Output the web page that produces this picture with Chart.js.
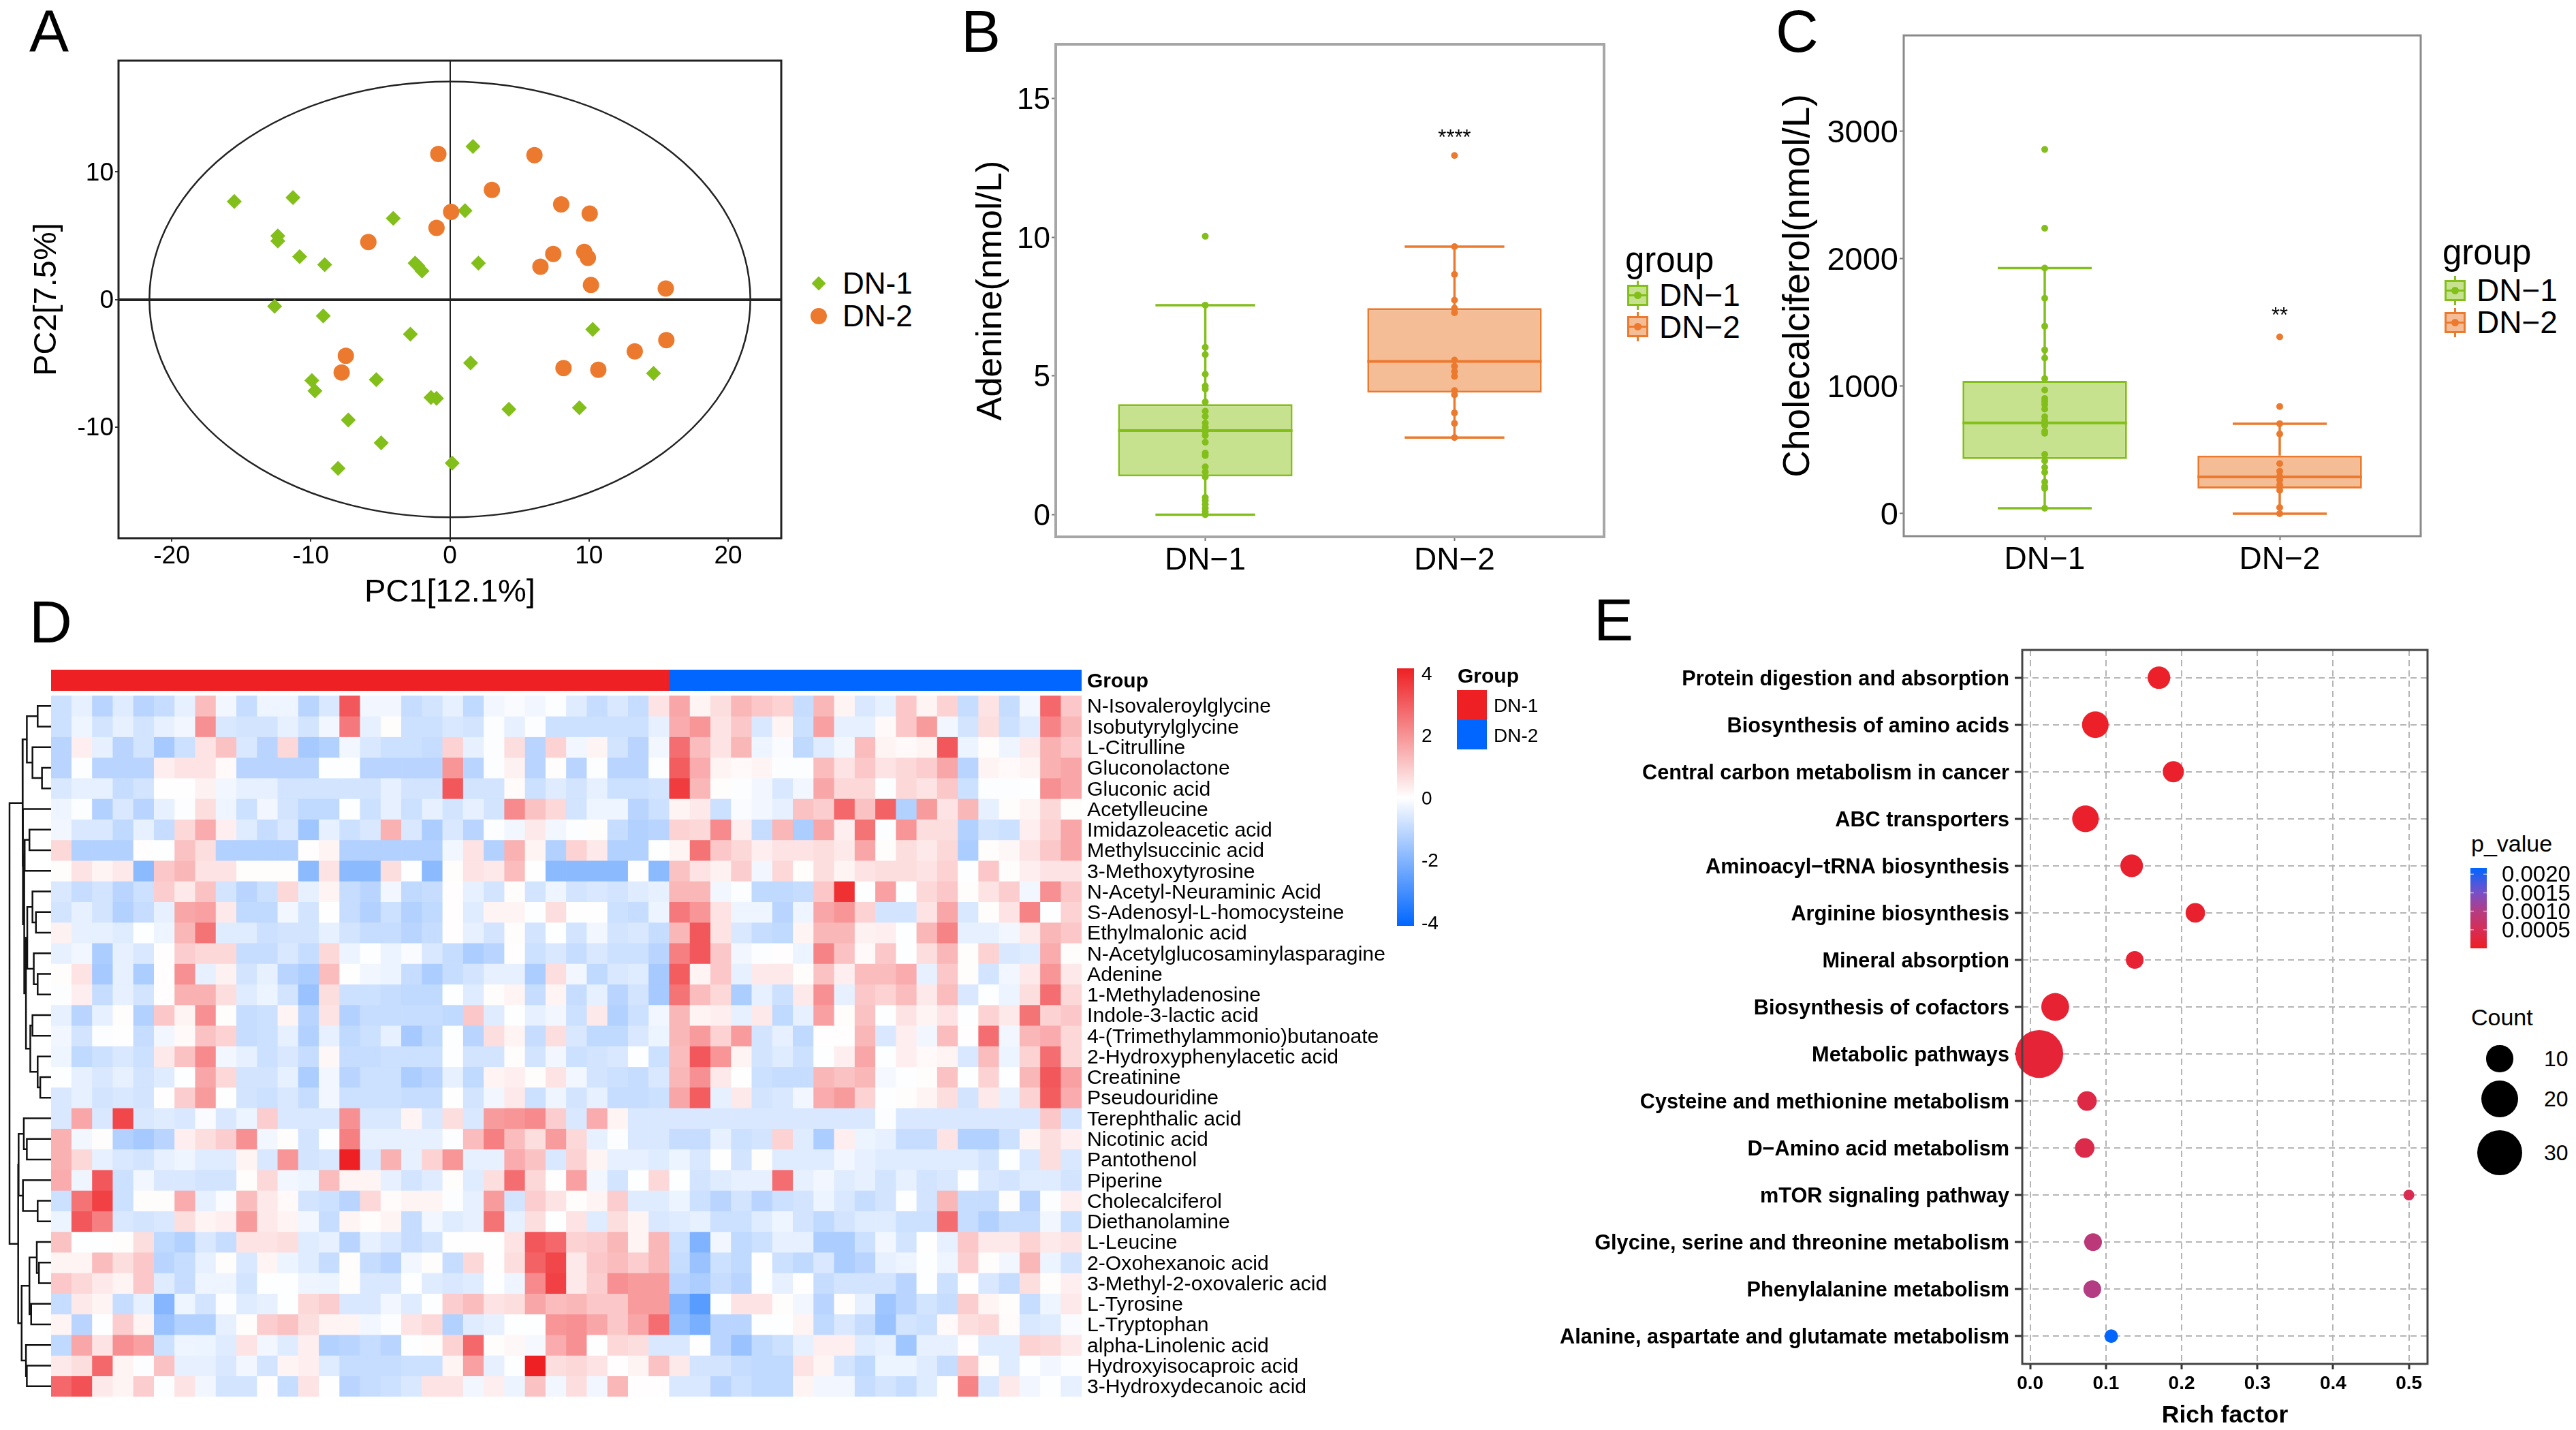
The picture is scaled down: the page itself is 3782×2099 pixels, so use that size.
<!DOCTYPE html>
<html>
<head>
<meta charset="utf-8">
<title>DN metabolomics</title>
<script src="https://cdn.jsdelivr.net/npm/chart.js@4/dist/chart.umd.min.js"></script>
<style>
  html, body { margin: 0; padding: 0; background: #fff; }
  #page { position: relative; width: 3782px; height: 2099px; overflow: hidden; font-family: "Liberation Sans", Arial, sans-serif; color: #000; }
  #page canvas { position: absolute; }
  .t { position: absolute; line-height: 1; white-space: nowrap; }
  .k { position: absolute; box-sizing: border-box; }
</style>
</head>
<body>
<div id="page"></div>
<script>
// Panel A - PCA scores
const pcaDn1X = [1.66, -15.5, -11.28, -4.07, 1.09, -12.37, -12.37, -10.8, -9.0, -2.5, -2.3, -2.0, 2.05, -12.6, -9.1, -2.84, 10.27, 1.49, 14.64, -9.92, -9.7, -5.29, -1.36, -0.96, 4.24, 9.31, -7.3, -4.94, -8.04, 0.17];
const pcaDn1Y = [12.0, 7.68, 7.99, 6.36, 6.96, 4.98, 4.58, 3.35, 2.73, 2.85, 2.63, 2.23, 2.85, -0.53, -1.29, -2.73, -2.35, -4.98, -5.8, -6.36, -7.18, -6.3, -7.7, -7.77, -8.62, -8.5, -9.47, -11.25, -13.26, -12.85];
const pcaDn2X = [-0.83, 6.08, 3.02, 8.0, 0.09, 10.05, -0.96, -5.86, 7.43, 9.66, 9.92, 6.51, 10.14, 15.52, 15.56, 13.29, -7.48, -7.78, 8.17, 10.67];
const pcaDn2Y = [11.41, 11.32, 8.59, 7.46, 6.87, 6.74, 5.61, 4.51, 3.57, 3.73, 3.26, 2.57, 1.13, 0.85, -3.2, -4.08, -4.42, -5.74, -5.39, -5.52];
const pcaXTicks = [-20, -10, 0, 10, 20];
const pcaYTicks = [-10, 0, 10];

// Panels B, C - box stats are [low whisker, q1, median, q3, high whisker]
const groupNames = ["DN\u22121", "DN\u22122"];
const adenineDn1 = [10.03, 7.55, 6.03, 5.77, 5.06, 4.64, 4.53, 4.06, 3.73, 3.54, 3.3, 3.15, 2.99, 2.85, 2.61, 2.22, 2.13, 1.72, 1.54, 1.36, 0.62, 0.51, 0.37, 0.23, 0.1, 0];
const adenineDn2 = [12.94, 9.66, 8.66, 7.73, 7.44, 7.28, 5.57, 5.35, 5.16, 4.98, 4.47, 4.32, 3.67, 3.29, 2.78];
const adenineBoxDn1 = [0, 1.38, 3.03, 3.98, 7.55];
const adenineBoxDn2 = [2.78, 4.4, 5.52, 7.44, 9.66];
const adenineTicks = [0, 5, 10, 15];
const cholecalciferolDn1 = [2859, 2240, 1928, 1691, 1471, 1285, 1222, 1060, 970, 904, 880, 856, 820, 760, 730, 694, 646, 631, 465, 414, 363, 324, 249, 213, 198, 42];
const cholecalciferolDn2 = [1387, 841, 706, 625, 393, 333, 294, 264, 225, 183, 48, 0];
const cholecalciferolBoxDn1 = [42, 429, 712, 1042, 1928];
const cholecalciferolBoxDn2 = [0, 198, 288, 456, 706];
const cholecalciferolTicks = [0, 1000, 2000, 3000];

// Panel D - heatmap, one row per metabolite, 30 DN-1 then 20 DN-2 samples
const metabolites = ["N-Isovaleroylglycine", "Isobutyrylglycine", "L-Citrulline", "Gluconolactone", "Gluconic acid", "Acetylleucine", "Imidazoleacetic acid", "Methylsuccinic acid", "3-Methoxytyrosine", "N-Acetyl-Neuraminic Acid", "S-Adenosyl-L-homocysteine", "Ethylmalonic acid", "N-Acetylglucosaminylasparagine", "Adenine", "1-Methyladenosine", "Indole-3-lactic acid", "4-(Trimethylammonio)butanoate", "2-Hydroxyphenylacetic acid", "Creatinine", "Pseudouridine", "Terephthalic acid", "Nicotinic acid", "Pantothenol", "Piperine", "Cholecalciferol", "Diethanolamine", "L-Leucine", "2-Oxohexanoic acid", "3-Methyl-2-oxovaleric acid", "L-Tyrosine", "L-Tryptophan", "alpha-Linolenic acid", "Hydroxyisocaproic acid", "3-Hydroxydecanoic acid"];
const sampleCounts = [30, 20];
const heatRows = [
  [-.8,-.4,-1.1,-.5,-1.1,-.9,-.4,1.2,-.2,-.9,-.25,-.25,-1.1,-.6,3.0,-.2,-.2,-.9,-.7,-.4,-1.0,-.2,-.1,-.2,-.05,-.5,-.9,-.6,-.9,.5, 1.6,.2,.6,1.3,1.0,.8,-.9,1.3,.2,-.6,-.4,1.0,.2,.8,-.9,.5,-.9,-.2,2.7,1.0],
  [-.8,-.25,-.7,-.4,-.7,-.4,-.2,2.0,-.6,-.7,-.7,-.4,-.7,-.2,2.4,-.4,.05,-.8,-.8,-.6,-.7,-.05,-.4,-.05,-.8,-.8,-.8,-.8,-.8,-.4, 1.5,1.9,.5,1.0,-.6,.2,-.8,1.7,-.4,-.4,.1,1.0,1.8,-.2,-.7,.6,-.8,-.5,2.2,1.3],
  [-1.1,.3,-.4,-1.1,-.7,-1.4,-.8,.5,1.1,-.6,-1.1,.7,-1.4,-1.2,-.2,-.6,-.8,-.8,-.9,.8,-.4,-.05,.6,-1.1,.8,-.2,.2,-.7,-1.1,-.2, 2.6,1.2,.5,1.3,-.25,-.1,-1.0,-.5,-.2,1.2,.2,.1,.2,3.0,-.3,.05,-.25,.4,1.4,1.0],
  [-1.1,-.05,-1.1,-1.1,-1.1,.3,.5,.5,.1,-1.1,-1.1,-1.1,-1.1,-.03,-.03,-1.1,-1.1,-1.1,-1.1,1.9,-1.1,-.05,.25,-1.1,.05,-1.1,-.05,-1.1,-1.1,-.05, 2.9,1.5,.2,.1,.2,-.05,-.05,1.2,.5,1.0,.5,.7,.9,1.6,-1.1,.2,.1,.2,1.4,1.6],
  [-.6,-.4,-.4,-.9,-.7,-.02,-.02,.25,-.2,-.4,-.4,-.7,-.7,-.7,-.7,-.7,-.4,-.7,-.7,3.0,-.7,-.7,.08,-.8,-.5,-.7,-.4,-.8,-.8,-.7, 3.5,1.3,.05,-.05,-.2,-.6,-.2,1.6,.7,.7,-.05,.7,.5,1.0,-.8,-.05,-.05,-.03,2.0,1.6],
  [-.25,-.05,-1.2,-.6,-1.1,-.4,-.05,.6,-.25,-.8,-.2,-.7,-1.0,-1.0,-.03,-.8,-.4,-.8,-.4,-.7,-.4,-.7,2.1,1.1,.7,-.7,-.25,-.25,-1.1,-.8, .2,.4,-.8,-.1,-.2,-.4,1.1,.9,2.7,1.1,2.8,-1.2,1.8,.5,1.3,-.4,.05,.2,.7,.05],
  [-.2,-.6,-.6,-1.0,-.4,-.9,.7,1.5,.3,-.5,-.9,-.6,-1.5,-.4,-.8,-.6,1.4,-.6,-1.3,-.6,-1.1,-.05,-.2,.4,-.2,-.05,.05,-.9,-1.2,-1.1, .8,.7,2.1,.3,-.9,1.3,-1.3,1.6,.3,2.5,-.05,1.9,.6,.6,-1.2,-.7,-.8,.3,.8,1.6],
  [.7,-1.2,-1.2,-1.2,.03,-.03,1.1,.6,-1.2,-1.2,-1.2,-1.2,.03,.2,-1.2,-1.2,-1.2,-1.2,-1.2,-.2,.5,-1.2,1.4,.2,-1.2,.8,.4,-1.2,-1.2,-.03, .2,2.5,1.0,.7,.3,.5,.5,.6,.4,1.6,.05,.6,.4,.7,-1.3,.05,.15,.5,1.0,1.6],
  [.05,.5,.2,.4,-1.8,1.0,1.3,.5,.5,.05,.05,.05,-1.8,.5,-1.8,-1.8,.6,-.03,-1.8,.05,.5,.4,1.2,-.02,-1.8,-1.8,-1.8,-1.8,-.02,-1.8, 1.1,.5,.25,.9,-.2,.7,.05,.6,.2,.5,.6,.6,.5,.8,-.03,1.0,.05,.3,.5,.5],
  [-.6,-.9,-.7,-1.1,-.8,.9,.4,1.1,-.7,-1.1,-.8,.7,-.4,.2,-.9,-1.1,-.2,-1.0,-.9,.03,-.4,-.7,.05,-.7,-.25,-.7,-.6,-.7,-.5,-.4, 1.3,1.3,-.2,-.05,-1.0,-1.0,-.9,1.0,3.7,-.03,1.7,-.03,.7,1.0,.05,.5,.9,-.2,2.0,1.0],
  [-.7,-.4,-.7,-1.2,-.9,-.4,1.6,1.7,.4,-1.0,-1.0,-.2,-.7,-.02,-.9,-1.2,-.8,-1.2,-1.0,.03,-.5,.2,.2,-.03,.6,-.02,-.02,-.8,-.9,-.3, 2.4,1.9,.5,-.25,-.25,-1.1,-.25,1.6,1.9,.8,-.7,-.7,.5,1.6,-.6,.05,.5,2.2,-.03,.8],
  [.25,-.4,-.4,-.5,-.03,-.25,1.3,2.5,-.5,-.5,-.8,-.7,-.7,-.4,-.7,-.9,-.9,-1.1,-.9,.03,-.4,-.7,.05,-.7,-.03,-.7,-.2,-.7,-.6,-.9, 1.3,3.0,.5,-.6,-.9,-1.0,.2,1.3,1.3,.25,.3,-.03,1.3,2.2,-.4,-.4,-.2,.4,1.3,1.0],
  [-.4,-.2,-1.3,-.4,-.6,.03,.9,.7,.7,-.9,-.9,-.6,-.9,.7,-.3,-.03,-.3,-.1,-.6,-.9,-1.3,-1.1,.03,-.8,-.6,-.9,-.6,-.8,-.8,-1.1, 2.3,3.0,1.0,-.2,-.05,.03,-.3,2.2,1.1,.1,1.0,-.03,.6,1.3,.05,.8,-.6,-.5,1.5,.05],
  [.05,.5,-1.4,-.4,-1.3,.03,2.0,-.4,.25,-.7,-.4,-1.1,-1.3,1.2,-.02,-.2,-.3,-.9,-1.3,-.9,-.7,-.4,-.4,-1.3,.6,-.2,-1.0,-.6,-.5,-1.4, 2.9,.2,1.0,-.4,.4,.4,.05,1.1,.3,1.2,1.2,1.5,-.4,1.0,.05,-.7,-.2,.4,1.9,.4],
  [-.05,.3,-.9,-.4,-.7,.03,1.4,1.4,.6,-.5,-.3,-.7,-1.6,.6,-.8,-.8,-.9,-1.0,-1.0,-.03,-.5,.05,.2,-.9,.2,-.9,-.4,-1.1,-.7,-1.4, 2.5,1.2,.7,-1.3,-.4,-.8,.4,2.0,-.4,1.0,.8,1.2,.4,1.2,-.6,-.03,-.3,.6,2.6,.7],
  [-.4,-1.1,-.4,.05,-1.2,1.0,.2,2.0,.05,-.9,-.8,.2,-1.1,.5,-1.2,-.9,-.9,-.9,-.9,-1.0,1.0,-.5,-.03,-.4,-.2,-.8,.4,-1.2,-.8,-.2, 1.3,.2,.3,-.4,.4,-1.0,-.4,1.7,.05,1.1,-.03,.5,.2,.5,-.03,.8,.4,2.5,.8,1.0],
  [-.2,-.7,-.05,-.02,-.9,-.2,.1,1.1,.8,-.9,-.8,-.4,-1.2,-.4,-1.0,-.8,-.4,-1.4,-1.0,-.03,-1.1,.6,.2,-.9,.6,-.6,-1.0,-1.0,-.6,-.3, 1.3,1.8,.8,1.8,-.7,-.4,-1.0,.03,.03,1.3,-.6,.3,-.2,1.2,.03,2.6,-.2,1.3,1.5,.7],
  [-.25,-1.0,-.8,-.6,-.8,.4,1.1,2.1,-.2,-.4,-.8,-.6,-.9,.15,-.9,-.9,-.8,-.8,-.8,-.03,-.7,-.7,.05,-.7,-.2,-.8,-.7,-.6,-.03,-.8, 1.2,3.0,1.9,.2,-.7,-.5,-.8,-.03,.3,1.6,-.03,.3,.1,.2,-.6,1.2,-.3,.8,2.6,.7],
  [-.03,-.4,-.6,-.4,-.7,-.5,-.03,1.6,.7,-.7,-.7,-.4,-1.3,-.2,-1.1,-.8,-.8,-1.3,-1.1,-.4,-1.0,.2,.3,.05,.5,-.2,-.7,-.8,-.9,-.6, 1.3,2.0,.4,-.02,-.8,-.9,-.9,1.3,1.1,1.3,-.15,-.03,.05,1.1,-.03,.8,-.03,1.3,3.0,1.7],
  [-.6,-.4,-.7,-.6,-.7,.03,.9,1.8,-.02,-.7,-.8,-.6,-.9,-.2,-.8,-.8,-.8,-.9,-.9,-.02,-.7,-.2,.4,-.8,-.25,-.7,-.4,-.9,-.9,-.8, 1.6,2.9,-.4,.4,-.7,-.6,-.2,1.5,1.8,.8,-.03,.05,.2,.6,-.7,.4,-.4,.8,2.9,1.5],
  [-.6,1.6,-.6,3.3,-.6,-.5,-.6,-.1,-.6,-.3,.9,-.6,-.6,-.6,2.0,-.6,-.6,.2,-.6,.6,-.6,1.8,1.9,2.1,.9,-.6,1.5,.2,-.6,-.6, -.6,-.6,-.6,-.6,-.6,-.6,-.6,-.6,-.6,-.6,-.05,-.6,-.6,-.6,-.6,-.6,-.6,-.6,1.0,-.7],
  [1.4,-.2,.05,-1.2,-1.4,-1.1,.3,.6,.9,2.0,-.2,.05,-.7,-.05,2.3,-.4,-.4,-.4,-.4,-.05,1.2,2.3,1.2,.6,1.8,.7,-.4,-.05,-.6,-.6, -.9,-.9,-.4,-.8,-.7,.8,-.5,-1.3,.3,-.3,-.4,-.9,-.9,.5,-1.2,-1.2,-.8,.2,.6,.3],
  [1.4,.7,-.4,-.6,-.7,-.4,-.25,-.5,-.5,.2,-.6,1.9,-.7,-.6,4.0,-.6,1.4,-.4,.8,1.9,-.4,-.4,1.5,1.1,-.6,.8,.2,-.4,-.4,-.5, -.3,-.6,-.02,-.7,.05,-.5,-.5,-.5,-.2,-.4,-.5,-.5,-.5,-.5,-.5,-.7,-.03,-.6,.6,-.6],
  [1.5,-.25,3.0,-.8,-.2,-.6,-.6,-.7,-.7,.05,.7,-.2,-.3,1.2,.2,.2,-.4,-.7,-.5,.05,-.5,.6,2.6,.7,.02,1.7,-.2,-.7,-.03,.7, -.03,-.7,-.5,-.4,-.4,2.6,-.4,-.2,-.5,-.4,-.7,-.4,-.7,-.6,-.03,-.6,-.7,-.5,-.5,-.7],
  [-.8,2.5,3.4,-.8,.05,.05,1.5,-.4,-.1,1.2,.4,.1,-.7,-.8,-1.1,.7,.08,.2,.2,-.05,-.4,1.8,-.7,.9,.5,.05,.2,.9,-.5,-.5, -.3,-.8,-1.1,-.7,-1.1,-.8,-.7,-.3,-.6,-.9,-.7,-.03,-.7,1.3,-.9,-.9,.05,-1.1,-.05,.3],
  [-.3,3.0,2.3,-.6,-.7,-.6,.6,.2,.3,1.8,.4,.2,-.2,-.9,.2,.05,.2,-.9,-.2,-.5,-.4,2.5,-.4,.6,-.03,.5,-.5,.6,.2,-.6, -.5,-.4,-.8,-.8,-.5,-.25,-.7,-1.0,-.7,-.5,-.5,-.8,-.8,2.6,-.9,-1.2,-.9,-.9,-.2,-.8],
  [1.1,-.03,-.03,.05,.6,-1.0,-1.2,-.6,-.9,.5,.5,.6,-.5,-.4,-1.1,-.4,-.6,-.9,-.7,.02,.02,.02,.5,3.0,2.7,.8,.9,1.3,.2,1.3, -.8,-2.0,-.2,-1.0,-.8,-.4,-.4,-1.3,-1.3,-.8,-.2,-.7,-.02,-.4,1.0,.4,.4,.8,.4,.5],
  [.2,.2,1.2,.6,1.0,-1.1,-.9,-.4,.05,-.6,.2,-.3,-.5,-.9,.05,-.9,-1.1,-.2,.05,-.9,.7,.03,.6,2.8,3.3,.4,1.0,1.2,.9,1.3, -.9,-1.6,-.8,-1.0,-.02,-.8,-1.0,-.6,-1.3,-1.1,-.4,-.25,-.03,-.25,.9,.05,-.2,1.3,-.3,-.7],
  [1.0,.7,.4,.2,1.0,-.5,-.9,-.25,-.25,-.7,-.03,-.03,-.25,-.3,.05,-.6,-.6,-.03,-.5,-.6,-.5,-.03,-.25,2.1,3.4,.4,.9,2.0,1.8,1.8, -1.1,-1.3,-.9,-1.1,-.03,-.4,-.02,-.9,-.7,-.7,-.7,-1.1,-.03,-.8,-.02,-.6,-.9,.6,.05,.3],
  [-.9,.4,.2,-.9,-.4,-1.9,-.25,-.7,-.05,-.5,-.4,-.03,.7,.9,-.6,-.6,-.2,-.5,-.03,.9,1.2,.5,.6,1.6,1.2,1.3,1.0,1.0,1.8,1.8, -1.9,-2.6,-.03,.5,.5,.05,-.2,-1.1,.05,-.4,-1.5,-1.1,-.7,-.9,.9,.2,.05,-.9,-.25,.4],
  [.2,-1.1,-.03,.9,.2,-1.6,-1.2,-1.2,-.4,.05,.9,1.1,.6,.2,.2,-.2,-.05,.5,.7,-1.2,-.5,-.4,-.03,-.03,1.9,2.0,1.6,1.0,1.6,2.6, -1.7,-2.1,-1.1,-1.1,-.03,-.03,.2,-1.0,-.6,-.9,-1.6,-.7,-.8,.1,.6,.7,.08,-.6,-.5,-.1],
  [-1.0,1.6,.5,2.0,1.7,-.8,-.25,-.3,-.5,.5,-.2,-.5,.3,-1.2,-1.1,-.9,-1.1,-.03,.05,.8,2.7,.05,.15,-.15,1.5,2.0,.02,.7,.6,-.6, -.6,-.02,-1.1,-1.6,-1.0,-.8,-.4,.3,.3,-.5,-.4,-1.5,-.4,-.4,.03,-.5,-.5,.8,.7,.4],
  [.4,.6,2.7,.2,-.04,1.1,-.4,-.4,-.6,-.2,-.7,.2,.3,-.5,-.9,-.9,-.9,-.8,-.8,.2,1.7,-.4,-.03,4.0,.6,.7,.5,.03,.2,1.1, .4,-.7,-.7,-.9,-1.0,-1.0,.5,.2,-.7,-1.0,-.3,-.3,-.5,-.9,1.0,.05,-.5,-.03,-.2,-.05],
  [2.7,3.1,.4,.2,.9,-.05,.5,-.2,-.7,-.7,.03,-.9,.5,-.02,-1.1,-.9,-.8,-.6,.5,.5,-.2,.3,-.3,1.1,-.2,.6,-.2,1.3,.03,.03, -.6,-.6,-1.1,-.8,-1.0,-1.0,.2,-.2,-.2,-.9,-.7,-.9,-.5,-.02,2.2,-.6,.4,-.2,-.03,-.4]
];
const heatScaleTicks = [-4, -2, 0, 2, 4];
// row dendrogram: [merge height, child, child], a plain number is a row index
const dendroTree = [96,
  [66,
    [56, [31, 0, 1], [43, 2, [21, 3, 4]]],
    [65, 5,
      [62,
        [61, [50, 6, 7], 8],
        [58,
          [55, [43, 9, [35, 10, 11]], [40, 12, [31, 13, 14]]],
          [48, [43, 15, 16], [31, 17, [25, 18, 19]]]]]]],
  [76,
    [75, [63, 20, [56, 21, 22]], [65, 23, [31, 24, 25]]],
    [68,
      [50, [33, 26, [28, 27, 28]], [46, 29, 30]],
      [58, 31, [56, 32, 33]]]]
];

// Panel E - KEGG enrichment
const pathways = ["Protein digestion and absorption", "Biosynthesis of amino acids", "Central carbon metabolism in cancer", "ABC transporters", "Aminoacyl\u2212tRNA biosynthesis", "Arginine biosynthesis", "Mineral absorption", "Biosynthesis of cofactors", "Metabolic pathways", "Cysteine and methionine metabolism", "D\u2212Amino acid metabolism", "mTOR signaling pathway", "Glycine, serine and threonine metabolism", "Phenylalanine metabolism", "Alanine, aspartate and glutamate metabolism"];
const richFactor = [.170, .086, .189, .073, .134, .218, .138, .033, .012, .075, .072, .5, .083, .082, .107];
const pathwayCount = [7, 10, 6, 10, 7, 5, 4, 11, 34, 5, 5, 1, 4, 4, 2];
const pathwayP = [.00005, .00005, .00008, .00008, .0001, .0001, .00015, .00015, .0002, .00035, .0004, .00045, .0009, .001, .00217];
const richTicks = [0, .1, .2, .3, .4, .5];
const pScaleTicks = [.0005, .001, .0015, .002];
const countLegend = [10, 20, 30];

const GREEN = "#83bf1a", GREEN_FILL = "#c7e28f", ORANGE = "#ec7a2e", ORANGE_FILL = "#f4bd96";
const HEAT_RED = [238, 32, 36], HEAT_BLUE = [0, 102, 255];
const pStops = [[0, [238, 30, 36]], [.0005, [215, 45, 85]], [.001, [180, 60, 130]], [.0015, [120, 80, 200]], [.00217, [0, 102, 255]]];

const page = document.getElementById("page");
Chart.defaults.font.family = '"Liberation Sans", Arial, sans-serif';
Chart.defaults.color = "#000";
Chart.defaults.animation = false;
Chart.defaults.events = [];
Chart.defaults.plugins.legend.display = false;
Chart.defaults.plugins.tooltip.enabled = false;

const rgb = c => `rgb(${c[0]},${c[1]},${c[2]})`;
const mix = (a, b, t) => a.map((v, i) => Math.round(v + (b[i] - v) * t));
const heatColor = z => rgb(z >= 0 ? mix([255, 255, 255], HEAT_RED, Math.min(z / 4, 1)) : mix([255, 255, 255], HEAT_BLUE, Math.min(-z / 4, 1)));
function pColor(p) {
  for (let i = 1; i < pStops.length; i++) {
    if (p <= pStops[i][0]) {
      return rgb(mix(pStops[i - 1][1], pStops[i][1], (p - pStops[i - 1][0]) / (pStops[i][0] - pStops[i - 1][0])));
    }
  }
  return rgb(pStops[pStops.length - 1][1]);
}
// size scale of the count legend, as a diameter
const countDiameter = n => Math.sqrt(110 + 141.7 * n);

function text(str, x, y, size, opts = {}) {
  const el = document.createElement("div");
  el.className = "t";
  el.textContent = str;
  el.style.left = x + "px";
  el.style.top = y + "px";
  el.style.fontSize = size + "px";
  if (opts.bold) el.style.fontWeight = "bold";
  el.style.transform = opts.center ? "translate(-50%,-50%)" : "translateY(-50%)";
  page.appendChild(el);
}

function block(x, y, w, h, css) {
  const el = document.createElement("div");
  el.className = "k";
  el.style.cssText = `left:${x}px;top:${y}px;width:${w}px;height:${h}px;${css}`;
  page.appendChild(el);
  return el;
}

// plot = inner plot rectangle in page pixels, margin = room kept for axes round it.
// A margin taken by an axis gets no layout padding: margin.axisR, margin.axisB
function mount(plot, margin, config) {
  const c = document.createElement("canvas");
  const w = plot.r - plot.l + margin.l + margin.r, h = plot.b - plot.t + margin.t + margin.b;
  c.width = w;
  c.height = h;
  c.style.left = plot.l - margin.l + "px";
  c.style.top = plot.t - margin.t + "px";
  c.style.width = w + "px";
  c.style.height = h + "px";
  page.appendChild(c);
  config.options.responsive = false;
  config.options.layout = {
    autoPadding: false,
    padding: { top: margin.t, right: margin.axisR ? 0 : margin.r, left: 0, bottom: margin.axisB ? 0 : margin.b }
  };
  return new Chart(c, config);
}

const fixedTicks = values => scale => { scale.ticks = values.map(value => ({ value })); };

Chart.register({
  id: "frame",
  afterDatasetsDraw(chart, args, o) {
    if (!o.color) return;
    const a = chart.chartArea, g = chart.ctx;
    g.save();
    g.strokeStyle = o.color;
    g.lineWidth = o.width;
    g.strokeRect(a.left, a.top, a.right - a.left, a.bottom - a.top);
    g.restore();
  }
}, {
  id: "ellipse",
  beforeDatasetsDraw(chart, args, o) {
    if (!o.rx) return;
    const { x, y } = chart.scales, g = chart.ctx;
    g.save();
    g.strokeStyle = o.color;
    g.lineWidth = o.width;
    g.beginPath();
    g.ellipse(x.getPixelForValue(0), y.getPixelForValue(0), x.getPixelForValue(o.rx) - x.getPixelForValue(0), y.getPixelForValue(0) - y.getPixelForValue(o.ry), 0, 0, Math.PI * 2);
    g.stroke();
    g.restore();
  }
}, {
  id: "note",
  afterDatasetsDraw(chart, args, o) {
    if (!o.text) return;
    const g = chart.ctx;
    g.save();
    g.font = `${o.size}px "Liberation Sans", Arial, sans-serif`;
    g.fillStyle = "#000";
    g.textAlign = "center";
    g.textBaseline = "middle";
    g.fillText(o.text, chart.scales.x.getPixelForValue(o.x), chart.scales.y.getPixelForValue(o.y));
    g.restore();
  }
}, {
  id: "innerTicks",
  afterDatasetsDraw(chart, args, o) {
    if (!o.color) return;
    const a = chart.chartArea, g = chart.ctx, y = chart.scales.y;
    g.save();
    g.strokeStyle = o.color;
    g.lineWidth = 1.5;
    y.ticks.forEach(t => {
      const p = y.getPixelForValue(t.value), len = (a.right - a.left) / 5;
      g.beginPath();
      g.moveTo(a.left, p); g.lineTo(a.left + len, p);
      g.moveTo(a.right - len, p); g.lineTo(a.right, p);
      g.stroke();
    });
    g.restore();
  }
});

/* ---------- A ---------- */
const zip = (xs, ys) => xs.map((x, i) => ({ x, y: ys[i] }));
const zeroLine = (color, width) => ({
  color: c => (c.tick.value === 0 ? color : "rgba(0,0,0,0)"),
  lineWidth: width,
  tickColor: "#333",
  tickWidth: 2,
  tickLength: 5,
  drawOnChartArea: true
});
mount({ l: 174, t: 89, r: 1147, b: 790 }, { l: 133, r: 10, t: 30, b: 108, axisB: true }, {
  type: "scatter",
  data: {
    datasets: [
      { label: "DN-2", data: zip(pcaDn2X, pcaDn2Y), backgroundColor: ORANGE, pointStyle: "circle", pointRadius: 12, borderWidth: 0 },
      { label: "DN-1", data: zip(pcaDn1X, pcaDn1Y), backgroundColor: GREEN, pointStyle: "rectRot", pointRadius: 11, borderWidth: 0 }
    ]
  },
  options: {
    scales: {
      x: {
        type: "linear", min: -23.82, max: 23.82, afterBuildTicks: fixedTicks(pcaXTicks), afterFit: s => { s.height = 108; },
        grid: zeroLine("#222", 2), border: { display: false },
        ticks: { font: { size: 37 }, padding: 0, maxRotation: 0, autoSkip: false, callback: v => v },
        title: { display: true, text: "PC1[12.1%]", font: { size: 47 }, padding: 0 }
      },
      y: {
        type: "linear", min: -18.74, max: 18.74, afterBuildTicks: fixedTicks(pcaYTicks), afterFit: s => { s.width = 133; },
        grid: zeroLine("#222", 4), border: { display: false },
        ticks: { font: { size: 37 }, padding: 2, labelOffset: 2, autoSkip: false, callback: v => v },
        title: { display: true, text: "PC2[7.5%]", font: { size: 47 }, padding: 0 }
      }
    },
    plugins: { frame: { color: "#222", width: 3 }, ellipse: { rx: 21.6, ry: 17.1, color: "#222", width: 2.5 } }
  }
});
block(1193, 407, 18, 18, `background:${GREEN};transform:rotate(45deg) scale(.82);`);
block(1190, 452, 24, 24, `background:${ORANGE};border-radius:50%;`);
text("DN-1", 1237, 416, 44);
text("DN-2", 1237, 464, 44);

/* ---------- B, C ---------- */
function boxDatasets(points, stats, color, fill, pos) {
  const [lo, q1, med, q3, hi] = stats;
  const gap = { x: null, y: null };
  return {
    points: { type: "scatter", data: points.map(y => ({ x: pos, y })), backgroundColor: color, pointRadius: 5, borderWidth: 0 },
    lines: {
      type: "scatter", showLine: true, pointRadius: 0, borderColor: color, borderWidth: 3.5,
      data: [
        { x: pos - .2, y: lo }, { x: pos + .2, y: lo }, gap,
        { x: pos - .2, y: hi }, { x: pos + .2, y: hi }, gap,
        { x: pos, y: lo }, { x: pos, y: q1 }, gap,
        { x: pos, y: q3 }, { x: pos, y: hi }
      ]
    },
    median: { type: "scatter", showLine: true, pointRadius: 0, borderColor: color, borderWidth: 4, data: [{ x: pos - .35, y: med }, { x: pos + .35, y: med }] },
    bar: { q1, q3, pos, color, fill }
  };
}

function boxChart(plot, margin, title, titleSize, tickSize, yTicks, yMin, yMax, dn1, dn2, note, frame) {
  const a = boxDatasets(dn1.points, dn1.box, GREEN, GREEN_FILL, 1);
  const b = boxDatasets(dn2.points, dn2.box, ORANGE, ORANGE_FILL, 2);
  mount(plot, margin, {
    type: "bar",
    data: {
      datasets: [
        a.points, b.points, a.median, b.median, a.lines, b.lines,
        {
          type: "bar",
          data: [a.bar, b.bar].map(s => ({ x: s.pos, y: [s.q1, s.q3] })),
          backgroundColor: [a.bar.fill, b.bar.fill],
          borderColor: [a.bar.color, b.bar.color],
          borderWidth: 3, borderSkipped: false, categoryPercentage: 1, barPercentage: .7
        }
      ]
    },
    options: {
      scales: {
        x: {
          type: "linear", offset: false, min: .4, max: 2.6, afterBuildTicks: fixedTicks([1, 2]), afterFit: s => { s.height = margin.b; },
          grid: { drawOnChartArea: false, tickColor: "#777", tickWidth: 2, tickLength: 6, offset: false }, border: { display: false },
          ticks: { font: { size: 46 }, padding: 2, maxRotation: 0, autoSkip: false, callback: v => groupNames[v - 1] }
        },
        y: {
          type: "linear", min: yMin, max: yMax, beginAtZero: false, afterBuildTicks: fixedTicks(yTicks), afterFit: s => { s.width = margin.l; },
          grid: { drawOnChartArea: false, tickColor: "#777", tickWidth: 2, tickLength: 6 }, border: { display: false },
          ticks: { font: { size: tickSize }, padding: 2, labelOffset: 3.5, autoSkip: false, callback: v => v },
          title: { display: true, text: title, font: { size: titleSize }, padding: 0 }
        }
      },
      plugins: { frame, note }
    }
  });
}

boxChart({ l: 1550, t: 65, r: 2355, b: 788 }, { l: 126, r: 8, t: 32, b: 70, axisB: true }, "Adenine(nmol/L)", 52, 44, adenineTicks, -.8, 16.95,
  { points: adenineDn1, box: adenineBoxDn1 }, { points: adenineDn2, box: adenineBoxDn2 }, { text: "****", x: 2, y: 13.55, size: 31 }, { color: "#a6a6a6", width: 4 });
boxChart({ l: 2795, t: 52, r: 3554, b: 787 }, { l: 187, r: 8, t: 32, b: 70, axisB: true }, "Cholecalciferol(nmol/L)", 55, 47, cholecalciferolTicks, -177, 3754,
  { points: cholecalciferolDn1, box: cholecalciferolBoxDn1 }, { points: cholecalciferolDn2, box: cholecalciferolBoxDn2 }, { text: "**", x: 2, y: 1546, size: 31 }, { color: "#8a8a8a", width: 3 });

function boxKey(x, y, color, fill) {
  block(x + 14, y - 6, 3, 43, `background:${color};`);
  block(x, y, 31, 31, `background:${fill};border:3px solid ${color};`);
  block(x, y + 14, 31, 3, `background:${color};`);
  block(x + 10, y + 10, 11, 11, `background:${color};border-radius:50%;`);
}
text("group", 2386, 381, 51);
boxKey(2389, 418, GREEN, GREEN_FILL);
boxKey(2389, 464, ORANGE, ORANGE_FILL);
text(groupNames[0], 2436, 433, 46);
text(groupNames[1], 2436, 480, 46);
text("group", 3586, 370, 51);
boxKey(3589, 411, GREEN, GREEN_FILL);
boxKey(3589, 458, ORANGE, ORANGE_FILL);
text(groupNames[0], 3636, 426, 46);
text(groupNames[1], 3636, 473, 46);

/* ---------- D ---------- */
const columns = heatRows[0].map((v, i) => i + 1);
const HEAT = { l: 75, t: 1021, r: 1588, b: 2050 };
mount(HEAT, { l: 0, r: 460, t: 24, b: 24, axisR: true }, {
  type: "bar",
  data: {
    labels: columns,
    datasets: heatRows.map((row, i) => ({
      label: metabolites[i],
      data: row.map(() => 1),
      backgroundColor: row.map(heatColor),
      borderWidth: 0, categoryPercentage: 1, barPercentage: 1
    }))
  },
  options: {
    scales: {
      x: { stacked: true, display: false },
      y: { stacked: true, display: false, reverse: true, min: 0, max: metabolites.length },
      rows: {
        type: "category", position: "right", labels: metabolites, offset: true,
        afterFit: s => { s.width = 460; },
        grid: { display: false }, border: { display: false },
        ticks: { font: { size: 30.2 }, padding: 0, labelOffset: 2, autoSkip: false }
      }
    }
  }
});

// annotation bar above the heatmap
mount({ l: 75, t: 983, r: 1588, b: 1014 }, { l: 0, r: 0, t: 0, b: 0 }, {
  type: "bar",
  data: {
    labels: ["Group"],
    datasets: [
      { data: [sampleCounts[0]], backgroundColor: rgb(HEAT_RED), categoryPercentage: 1, barPercentage: 1 },
      { data: [sampleCounts[1]], backgroundColor: rgb(HEAT_BLUE), categoryPercentage: 1, barPercentage: 1 }
    ]
  },
  options: {
    indexAxis: "y",
    scales: {
      x: { stacked: true, display: false, min: 0, max: sampleCounts[0] + sampleCounts[1] },
      y: { stacked: true, display: false }
    }
  }
});
text("Group", 1596, 999, 30, { bold: true });

// dendrogram segments come from the merge tree
const dendroSegments = [];
function walk(node) {
  if (typeof node === "number") return { h: 0, y: node + .5 };
  const a = walk(node[1]), b = walk(node[2]), h = node[0];
  dendroSegments.push({ x: a.h, y: a.y }, { x: h, y: a.y }, { x: h, y: b.y }, { x: b.h, y: b.y }, { x: null, y: null });
  return { h, y: (a.y + b.y) / 2 };
}
walk(dendroTree);
mount({ l: 0, t: 1021, r: 75, b: 2050 }, { l: 0, r: 0, t: 0, b: 0 }, {
  type: "scatter",
  data: { datasets: [{ data: dendroSegments, showLine: true, pointRadius: 0, borderColor: "#111", borderWidth: 2.5, clip: false }] },
  options: {
    scales: {
      x: { type: "linear", display: false, reverse: true, min: 0, max: 118 },
      y: { type: "linear", display: false, reverse: true, min: 0, max: metabolites.length }
    }
  }
});

// tick padding also counts against the label overhang, so the margins are generous
function colorBar(plot, rightRoom, min, max, ticks, stops, fontSize, pad, fmt, plugins) {
  mount(plot, { l: 0, r: rightRoom, t: 40, b: 40, axisR: true }, {
    type: "bar",
    data: {
      labels: [""],
      datasets: [{
        data: [[min, max]],
        borderWidth: 0, categoryPercentage: 1, barPercentage: 1,
        backgroundColor: c => {
          const y = c.chart.scales.y;
          if (!c.chart.chartArea || !y) return "#ccc";
          const top = y.getPixelForValue(max), bottom = y.getPixelForValue(min);
          const g = c.chart.ctx.createLinearGradient(0, bottom, 0, top);
          stops.forEach(s => g.addColorStop((s[0] - min) / (max - min), rgb(s[1])));
          return g;
        }
      }]
    },
    options: {
      scales: {
        x: { display: false },
        y: {
          position: "right", min, max, beginAtZero: false, afterBuildTicks: fixedTicks(ticks), afterFit: s => { s.width = rightRoom; },
          grid: { display: false }, border: { display: false },
          ticks: { font: { size: fontSize }, padding: pad, labelOffset: 2, autoSkip: false, callback: fmt }
        }
      },
      plugins
    }
  });
}
colorBar({ l: 2051, t: 981, r: 2076, b: 1359 }, 70, -4.11, 4.15, heatScaleTicks,
  [[-4.11, HEAT_BLUE], [0, [255, 255, 255]], [4.15, HEAT_RED]], 28, 3, v => v, {});
block(2139, 1013, 44, 44, `background:${rgb(HEAT_RED)};`);
block(2139, 1057, 44, 43, `background:${rgb(HEAT_BLUE)};`);
text("Group", 2140, 992, 30, { bold: true });
text("DN-1", 2193, 1036, 28);
text("DN-2", 2193, 1080, 28);

/* ---------- E ---------- */
mount({ l: 2969, t: 954, r: 3564, b: 2002 }, { l: 720, r: 12, t: 30, b: 98, axisB: true }, {
  type: "bubble",
  data: {
    datasets: [{
      data: richFactor.map((x, i) => ({ x, y: i + 1, r: countDiameter(pathwayCount[i]) / 2 })),
      backgroundColor: pathwayP.map(pColor),
      borderWidth: 0,
      clip: false
    }]
  },
  options: {
    scales: {
      x: {
        type: "linear", min: -.0105, max: .5246, afterBuildTicks: fixedTicks(richTicks), afterFit: s => { s.height = 98; },
        grid: { color: "#b5b5b5", lineWidth: 2, tickColor: "#333", tickWidth: 3, tickLength: 8, tickBorderDash: [] }, border: { display: false, dash: [9, 6] },
        ticks: { font: { size: 28, weight: "bold" }, padding: 4, maxRotation: 0, autoSkip: false, callback: v => v.toFixed(1) },
        title: { display: true, text: "Rich factor", font: { size: 35.5, weight: "bold" }, padding: 0 }
      },
      y: {
        type: "linear", reverse: true, min: .41, max: 15.59, afterBuildTicks: fixedTicks(pathways.map((p, i) => i + 1)), afterFit: s => { s.width = 720; },
        grid: { color: "#b5b5b5", lineWidth: 2, tickColor: "#333", tickWidth: 3, tickLength: 11, tickBorderDash: [] }, border: { display: false, dash: [9, 6] },
        ticks: { font: { size: 30.7, weight: "bold" }, padding: 8, labelOffset: 2.5, autoSkip: false, callback: v => pathways[v - 1] }
      }
    },
    plugins: { frame: { color: "#444", width: 3 } }
  }
});
text("p_value", 3628, 1238, 34);
colorBar({ l: 3627, t: 1274, r: 3651, b: 1392 }, 130, 0, .00217, pScaleTicks, pStops, 33, 14, v => v.toFixed(4), { innerTicks: { color: "rgba(255,255,255,.6)" } });
text("Count", 3628, 1493, 34);
const countRows = [1554, 1613, 1692];
countLegend.forEach((n, i) => {
  const d = countDiameter(n);
  block(3670 - d / 2, countRows[i] - d / 2, d, d, "background:#000;border-radius:50%;");
  text(String(n), 3735, countRows[i], 32);
});

/* ---------- panel letters ---------- */
text("A", 43, 45, 87);
text("B", 1411, 45, 87);
text("C", 2607, 45, 87);
text("D", 43, 912, 87);
text("E", 2340, 909, 87);
</script>
</body>
</html>
